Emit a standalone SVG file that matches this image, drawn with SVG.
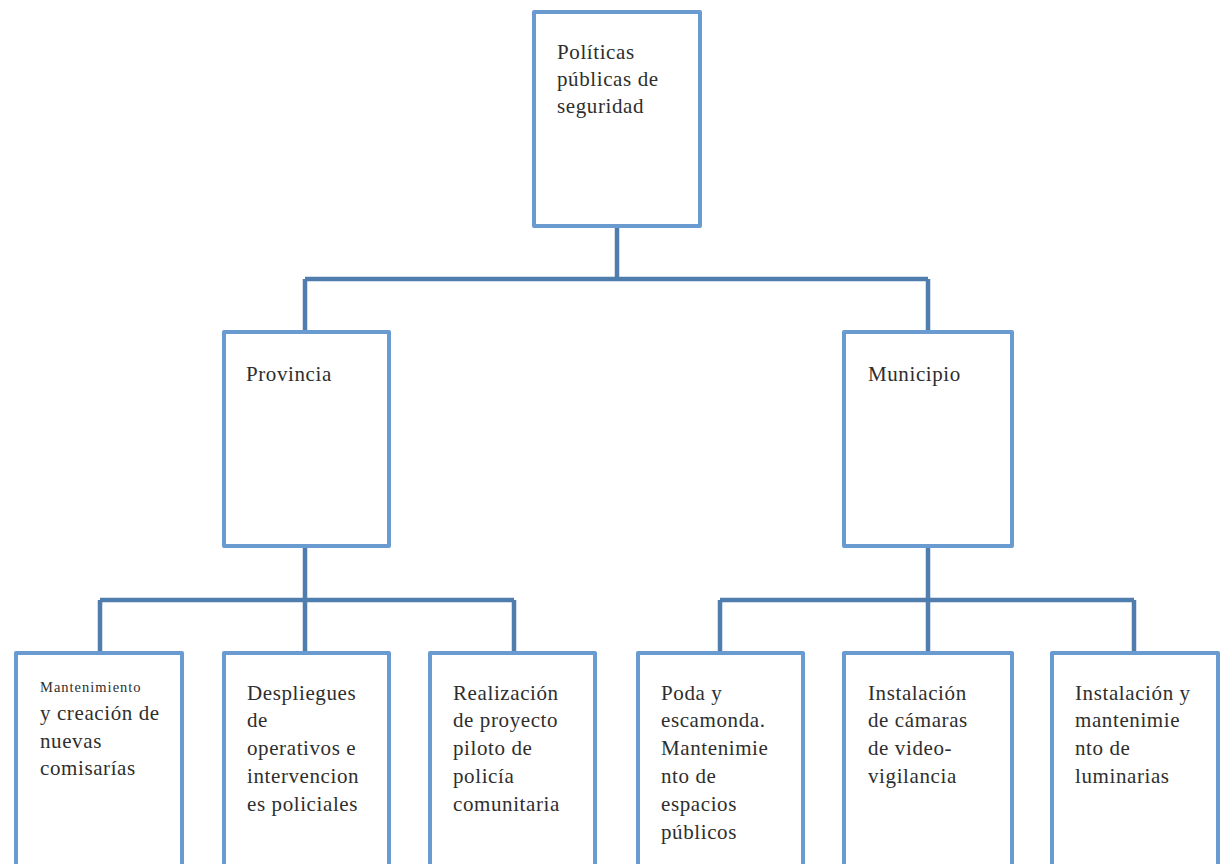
<svg xmlns="http://www.w3.org/2000/svg" width="1224" height="864" viewBox="0 0 1224 864">
<style>
.box{fill:#fff;stroke:#6a9bd0;stroke-width:4;stroke-linejoin:round}
.con{fill:none;stroke:#4f7dad;stroke-width:4.5;stroke-linejoin:round}
text{font-family:"Liberation Serif","DejaVu Serif",serif;font-size:21px;letter-spacing:0.6px;fill:#2e2e2e}
.sm{font-size:14.5px;letter-spacing:1px}
</style>
<rect width="1224" height="864" fill="#fff"/>
<g id="connectors">
<path class="con" d="M617 227V279M305 279H928M305 279V332M928 279V332"/>
<path class="con" d="M305 546V600M100 600H514M100 600V653M305 600V653M514 600V653"/>
<path class="con" d="M928 546V600M720 600H1134M720 600V653M928 600V653M1134 600V653"/>
</g>
<g id="root"><rect class="box" x="534" y="12" width="166" height="214"/>
<text x="557" y="59">Políticas</text><text x="557" y="86">públicas de</text><text x="557" y="113">seguridad</text></g>
<g id="provincia"><rect class="box" x="224" y="332" width="165" height="214"/>
<text x="246" y="381">Provincia</text></g>
<g id="municipio"><rect class="box" x="844" y="332" width="168" height="214"/>
<text x="868" y="381">Municipio</text></g>
<g id="n1"><rect class="box" x="16" y="653" width="166" height="230"/>
<text class="sm" x="40" y="692">Mantenimiento</text><text x="40" y="720">y creación de</text><text x="40" y="748">nuevas</text><text x="40" y="775">comisarías</text></g>
<g id="n2"><rect class="box" x="224" y="653" width="165" height="230"/>
<text x="247" y="700">Despliegues</text><text x="247" y="727">de</text><text x="247" y="755">operativos e</text><text x="247" y="783">intervencion</text><text x="247" y="811">es policiales</text></g>
<g id="n3"><rect class="box" x="430" y="653" width="165" height="230"/>
<text x="453" y="700">Realización</text><text x="453" y="727">de proyecto</text><text x="453" y="755">piloto de</text><text x="453" y="783">policía</text><text x="453" y="811">comunitaria</text></g>
<g id="n4"><rect class="box" x="638" y="653" width="165" height="230"/>
<text x="661" y="700">Poda y</text><text x="661" y="727">escamonda.</text><text x="661" y="755">Mantenimie</text><text x="661" y="783">nto de</text><text x="661" y="811">espacios</text><text x="661" y="839">públicos</text></g>
<g id="n5"><rect class="box" x="844" y="653" width="168" height="230"/>
<text x="868" y="700">Instalación</text><text x="868" y="727">de cámaras</text><text x="868" y="755">de video-</text><text x="868" y="783">vigilancia</text></g>
<g id="n6"><rect class="box" x="1052" y="653" width="166" height="230"/>
<text x="1075" y="700">Instalación y</text><text x="1075" y="727">mantenimie</text><text x="1075" y="755">nto de</text><text x="1075" y="783">luminarias</text></g>
</svg>
